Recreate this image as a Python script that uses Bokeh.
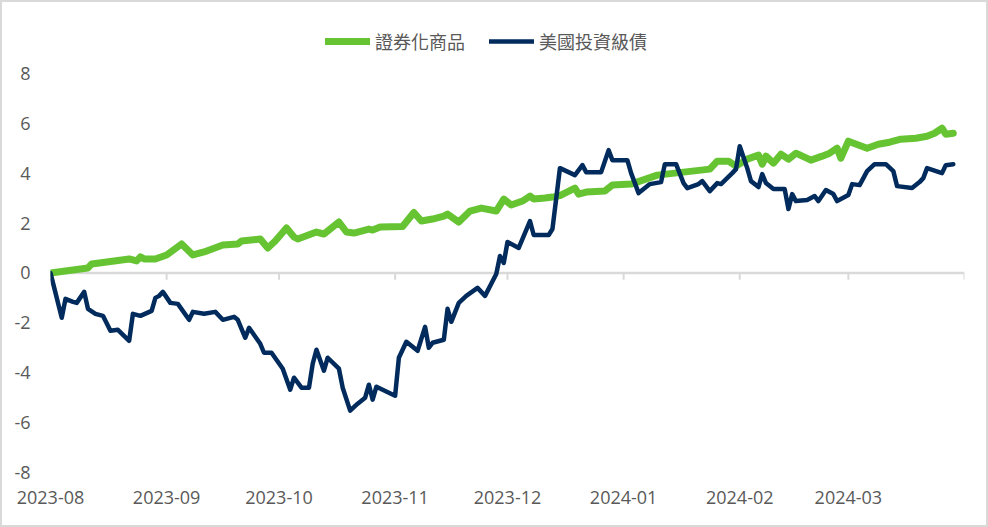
import pandas as pd
from bokeh.plotting import figure
from bokeh.models import Range1d, Span, FixedTicker, Legend, LegendItem, ColumnDataSource
from bokeh.embed import file_html
from bokeh.resources import INLINE

series_names = ["證券化商品", "美國投資級債"]

sec_dates = [
    "2023-08-01", "2023-08-11", "2023-08-12", "2023-08-16", "2023-08-22", "2023-08-24", "2023-08-25",
    "2023-08-26", "2023-08-29", "2023-09-01", "2023-09-05", "2023-09-08", "2023-09-11", "2023-09-16",
    "2023-09-20", "2023-09-21", "2023-09-26", "2023-09-28", "2023-09-30", "2023-10-03", "2023-10-05",
    "2023-10-06", "2023-10-11", "2023-10-13", "2023-10-17", "2023-10-19", "2023-10-21", "2023-10-25",
    "2023-10-26", "2023-10-28", "2023-11-03", "2023-11-06", "2023-11-08", "2023-11-11", "2023-11-14",
    "2023-11-15", "2023-11-18", "2023-11-21", "2023-11-24", "2023-11-28", "2023-11-30", "2023-12-02",
    "2023-12-05", "2023-12-07", "2023-12-08", "2023-12-11", "2023-12-13", "2023-12-15", "2023-12-19",
    "2023-12-20", "2023-12-22", "2023-12-27", "2023-12-29", "2024-01-03", "2024-01-10", "2024-01-17",
    "2024-01-24", "2024-01-26", "2024-01-29", "2024-01-31", "2024-02-03", "2024-02-06", "2024-02-07",
    "2024-02-08", "2024-02-10", "2024-02-12", "2024-02-14", "2024-02-16", "2024-02-20", "2024-02-23",
    "2024-02-25", "2024-02-27", "2024-02-28", "2024-03-01", "2024-03-06", "2024-03-09", "2024-03-12",
    "2024-03-15", "2024-03-19", "2024-03-22", "2024-03-24", "2024-03-26", "2024-03-27", "2024-03-29",
]
sec_values = [
    0.00, 0.20, 0.36, 0.44, 0.56, 0.48, 0.64,
    0.56, 0.56, 0.72, 1.16, 0.72, 0.84, 1.12,
    1.16, 1.28, 1.36, 1.00, 1.28, 1.80, 1.44,
    1.36, 1.64, 1.56, 2.04, 1.64, 1.60, 1.76,
    1.72, 1.84, 1.86, 2.42, 2.08, 2.16, 2.28,
    2.36, 2.04, 2.48, 2.60, 2.48, 2.96, 2.72,
    2.88, 3.08, 2.96, 3.00, 3.04, 3.10, 3.40,
    3.16, 3.24, 3.28, 3.52, 3.56, 3.92, 4.04,
    4.16, 4.48, 4.48, 4.28, 4.56, 4.72, 4.36,
    4.68, 4.40, 4.76, 4.56, 4.80, 4.52, 4.68,
    4.80, 5.00, 4.60, 5.28, 5.00, 5.16, 5.24,
    5.36, 5.40, 5.48, 5.60, 5.80, 5.56, 5.60,
]

ig_dates = [
    "2023-08-01", "2023-08-02", "2023-08-04", "2023-08-05", "2023-08-07", "2023-08-08", "2023-08-10",
    "2023-08-11", "2023-08-13", "2023-08-15", "2023-08-17", "2023-08-19", "2023-08-22", "2023-08-23",
    "2023-08-25", "2023-08-28", "2023-08-29", "2023-08-30", "2023-08-31", "2023-09-02", "2023-09-04",
    "2023-09-07", "2023-09-08", "2023-09-11", "2023-09-14", "2023-09-16", "2023-09-19", "2023-09-20",
    "2023-09-22", "2023-09-23", "2023-09-26", "2023-09-27", "2023-09-29", "2023-10-02", "2023-10-04",
    "2023-10-05", "2023-10-07", "2023-10-09", "2023-10-10", "2023-10-11", "2023-10-13", "2023-10-14",
    "2023-10-17", "2023-10-18", "2023-10-20", "2023-10-22", "2023-10-24", "2023-10-25", "2023-10-26",
    "2023-10-27", "2023-11-01", "2023-11-02", "2023-11-04", "2023-11-07", "2023-11-09", "2023-11-10",
    "2023-11-11", "2023-11-14", "2023-11-15", "2023-11-16", "2023-11-18", "2023-11-20", "2023-11-23",
    "2023-11-25", "2023-11-28", "2023-11-29", "2023-11-30", "2023-12-01", "2023-12-04", "2023-12-07",
    "2023-12-08", "2023-12-12", "2023-12-13", "2023-12-15", "2023-12-19", "2023-12-21", "2023-12-22",
    "2023-12-26", "2023-12-28", "2023-12-29", "2024-01-02", "2024-01-03", "2024-01-05", "2024-01-08",
    "2024-01-11", "2024-01-12", "2024-01-15", "2024-01-17", "2024-01-18", "2024-01-21", "2024-01-22",
    "2024-01-24", "2024-01-26", "2024-01-27", "2024-01-30", "2024-01-31", "2024-02-01", "2024-02-03",
    "2024-02-04", "2024-02-06", "2024-02-07", "2024-02-08", "2024-02-10", "2024-02-13", "2024-02-14",
    "2024-02-15", "2024-02-16", "2024-02-19", "2024-02-21", "2024-02-22", "2024-02-24", "2024-02-26",
    "2024-02-27", "2024-03-01", "2024-03-02", "2024-03-04", "2024-03-06", "2024-03-08", "2024-03-11",
    "2024-03-13", "2024-03-14", "2024-03-18", "2024-03-20", "2024-03-21", "2024-03-22", "2024-03-26",
    "2024-03-27", "2024-03-29",
]
ig_values = [
    0.00, -0.60, -1.80, -1.04, -1.16, -1.20, -0.76,
    -1.44, -1.64, -1.72, -2.32, -2.28, -2.72, -1.64,
    -1.72, -1.52, -1.00, -0.92, -0.76, -1.20, -1.24,
    -1.88, -1.56, -1.64, -1.56, -1.88, -1.76, -1.88,
    -2.60, -2.20, -2.84, -3.20, -3.20, -3.84, -4.68,
    -4.20, -4.60, -4.60, -3.64, -3.08, -3.92, -3.40,
    -3.84, -4.60, -5.52, -5.24, -5.00, -4.48, -5.08,
    -4.56, -4.92, -3.40, -2.76, -3.12, -2.16, -3.00,
    -2.80, -2.68, -1.44, -1.96, -1.20, -0.92, -0.60,
    -0.92, -0.04, 0.68, 0.40, 1.24, 1.00, 2.08,
    1.52, 1.52, 1.76, 4.20, 3.92, 4.32, 4.04,
    4.04, 4.92, 4.52, 4.52, 4.00, 3.20, 3.56,
    3.64, 4.36, 4.36, 3.60, 3.40, 3.56, 3.68,
    3.28, 3.60, 3.56, 4.00, 4.16, 5.08, 4.20,
    3.68, 3.44, 3.96, 3.60, 3.36, 3.36, 2.56,
    3.16, 2.88, 2.92, 3.08, 2.88, 3.32, 3.16,
    2.88, 3.12, 3.56, 3.52, 4.08, 4.36, 4.36,
    4.08, 3.48, 3.40, 3.64, 3.80, 4.20, 4.00,
    4.32, 4.36,
]

month_ticks = ["2023-08-01", "2023-09-01", "2023-10-01", "2023-11-01", "2023-12-01",
               "2024-01-01", "2024-02-01", "2024-03-01"]
month_labels = ["2023-08", "2023-09", "2023-10", "2023-11", "2023-12",
                "2024-01", "2024-02", "2024-03"]
boundary_ticks = ["2023-08-01", "2023-09-01", "2023-10-01", "2023-11-01", "2023-12-01",
                  "2024-01-01", "2024-02-01", "2024-03-01", "2024-04-01"]
x_bounds = ["2023-08-01", "2024-04-01"]
y_ticks = [-8, -6, -4, -2, 0, 2, 4, 6, 8]
y_labels = ["-8", "-6", "-4", "-2", "0", "2", "4", "6", "8"]

GREEN = "#66C433"
NAVY = "#002B5C"
GREY_TXT = "#595959"
GRID = "#D9D9D9"
FONT = "Open Sans"

def ms(s):
    return pd.Timestamp(s).value // 10**6

# frame spans from y=-8 (bottom) up to the top edge (legend area), 25 px per unit
p = figure(width=988, height=527, x_axis_type="datetime",
           x_range=Range1d(pd.Timestamp(x_bounds[0]), pd.Timestamp(x_bounds[1])),
           y_range=Range1d(-8, 10.92),
           output_backend="svg", toolbar_location=None,
           min_border_left=50, min_border_right=24, min_border_top=0, min_border_bottom=55)
p.styles = {"box-shadow": "inset 0 0 0 2px #D9D9D9", "background-color": "white"}
p.outline_line_color = None
p.xgrid.visible = False
p.ygrid.visible = False
p.background_fill_alpha = 0
p.border_fill_alpha = 0

# zero line with month-boundary ticks
p.add_layout(Span(location=0, dimension="width", line_color=GRID, line_width=2.5, level="underlay"))
bsrc = ColumnDataSource(dict(x=[pd.Timestamp(d) for d in boundary_ticks],
                             y0=[0] * len(boundary_ticks), y1=[-0.27] * len(boundary_ticks)))
p.segment(x0="x", y0="y0", x1="x", y1="y1", source=bsrc, line_color=GRID, line_width=2)

sec_src = ColumnDataSource(dict(x=pd.to_datetime(sec_dates), y=sec_values))
ig_src = ColumnDataSource(dict(x=pd.to_datetime(ig_dates), y=ig_values))
r1 = p.line("x", "y", source=sec_src, line_color=GREEN, line_width=7, line_join="round", line_cap="round")
r2 = p.line("x", "y", source=ig_src, line_color=NAVY, line_width=4.5, line_join="round", line_cap="round")

# axes
p.xaxis.ticker = FixedTicker(ticks=[ms(d) for d in month_ticks])
p.xaxis.major_label_overrides = {ms(d): lab for d, lab in zip(month_ticks, month_labels)}
p.xaxis.axis_line_color = None
p.xaxis.major_tick_line_color = None
p.xaxis.minor_tick_line_color = None
p.xaxis.major_tick_out = 0
p.xaxis.major_tick_in = 0
p.xaxis.major_label_standoff = 18
p.xaxis.major_label_text_font = FONT
p.xaxis.major_label_text_font_size = "18px"
p.xaxis.major_label_text_color = GREY_TXT

p.yaxis.ticker = FixedTicker(ticks=y_ticks)
p.yaxis.major_label_overrides = {t: lab for t, lab in zip(y_ticks, y_labels)}
p.yaxis.axis_line_color = None
p.yaxis.major_tick_line_color = None
p.yaxis.minor_tick_line_color = None
p.yaxis.major_tick_out = 0
p.yaxis.major_tick_in = 0
p.yaxis.major_label_standoff = 20
p.yaxis.major_label_text_font = FONT
p.yaxis.major_label_text_font_size = "18px"
p.yaxis.major_label_text_color = GREY_TXT

legend = Legend(items=[LegendItem(label=series_names[0], renderers=[r1]),
                       LegendItem(label=series_names[1], renderers=[r2])],
                orientation="horizontal", location=(275, 418),
                glyph_width=45, glyph_height=20, label_standoff=5, spacing=24,
                padding=0, margin=0, border_line_color=None, background_fill_alpha=0,
                label_text_font="Noto Sans CJK TC", label_text_font_size="18px",
                label_text_color=GREY_TXT)
p.add_layout(legend)

open("out.html", "w").write(file_html(p, INLINE))
